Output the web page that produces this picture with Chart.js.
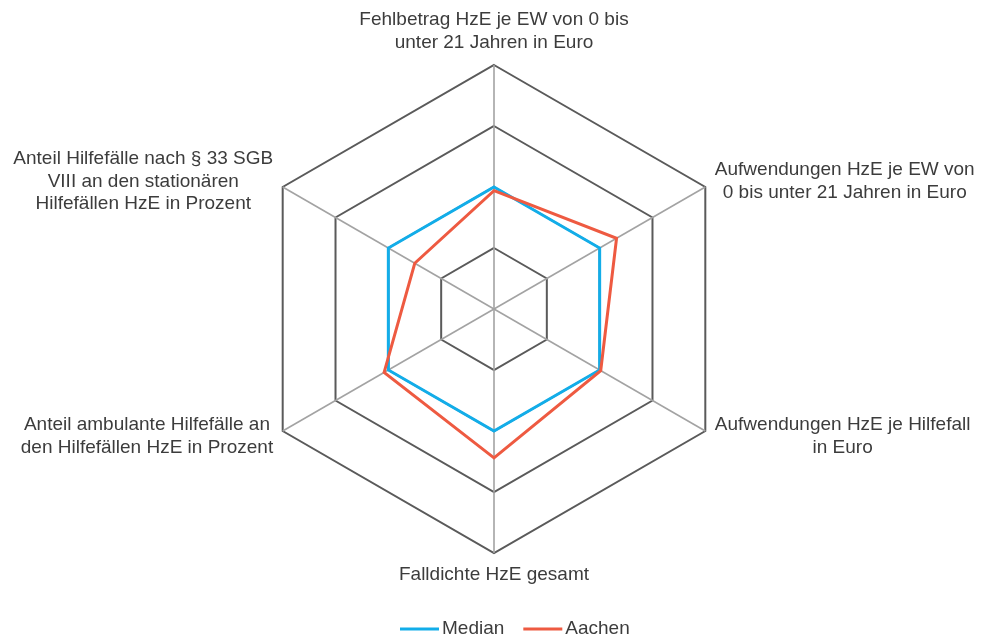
<!DOCTYPE html>
<html lang="de">
<head>
<meta charset="utf-8">
<title>HzE Kennzahlen – Median und Aachen</title>
<script src="https://cdn.jsdelivr.net/npm/chart.js@4.4.1/dist/chart.umd.min.js"></script>
<style>
  html, body { margin: 0; padding: 0; background: #ffffff; }
  #wrap { width: 981px; height: 639px; position: relative; }
</style>
</head>
<body>
<div id="wrap"><canvas id="radar" width="981" height="639"></canvas></div>
<script>
// Axis labels (one entry per spoke, split into lines)
const categories = [
  ['Fehlbetrag HzE je EW von 0 bis', 'unter 21 Jahren in Euro'],
  ['Aufwendungen HzE je EW von', '0 bis unter 21 Jahren in Euro'],
  ['Aufwendungen HzE je Hilfefall', 'in Euro'],
  ['Falldichte HzE gesamt'],
  ['Anteil ambulante Hilfefälle an', 'den Hilfefällen HzE in Prozent'],
  ['Anteil Hilfefälle nach § 33 SGB', 'VIII an den stationären', 'Hilfefällen HzE in Prozent']
];

// Index values (Median = 100)
const medianValues = [100, 100, 100, 100, 100, 100];
const aachenValues = [97, 116, 101, 122, 104, 75];

// Radial scale range
const scaleMin = 0;
const scaleMax = 200;
const scaleStep = 50;

const seriesNames = ['Median', 'Aachen'];
const seriesColors = ['#12ade9', '#ee5a41'];

const FONT = '"Liberation Sans", Arial, sans-serif';
const FONT_SIZE = 19;
const LINE_H = 22.5;
const TEXT_COLOR = '#3c3c3c';

// Draws the multi-line spoke labels (centred lines) and the legend
const labelPlugin = {
  id: 'spokeLabels',
  afterDraw(chart) {
    const scale = chart.scales.r;
    const ctx = chart.ctx;
    ctx.save();
    ctx.font = FONT_SIZE + 'px ' + FONT;
    ctx.fillStyle = TEXT_COLOR;
    ctx.textBaseline = 'middle';
    ctx.textAlign = 'center';

    const n = categories.length;
    for (let i = 0; i < n; i++) {
      const lines = categories[i];
      const pos = scale.getPointPosition(i, scale.drawingArea + 11);
      const blockW = Math.max(...lines.map(l => ctx.measureText(l).width));
      const blockH = lines.length * LINE_H;
      const dx = pos.x - scale.xCenter;
      let cx, top;
      if (Math.abs(dx) < 1) {
        cx = pos.x;
        top = pos.y < scale.yCenter ? pos.y - blockH : pos.y;
      } else if (dx > 0) {
        cx = pos.x + blockW / 2;
        top = pos.y - blockH / 2;
      } else {
        cx = pos.x - blockW / 2;
        top = pos.y - blockH / 2;
      }
      lines.forEach((line, k) => {
        ctx.fillText(line, cx, top + LINE_H * (k + 0.5));
      });
    }

    // Legend
    const legendY = 629;
    let x = 400;
    ctx.textAlign = 'left';
    seriesNames.forEach((name, k) => {
      ctx.strokeStyle = seriesColors[k];
      ctx.lineWidth = 3;
      ctx.beginPath();
      ctx.moveTo(x, legendY);
      ctx.lineTo(x + 39, legendY);
      ctx.stroke();
      x += 42;
      ctx.fillStyle = TEXT_COLOR;
      ctx.fillText(name, x, legendY);
      x += ctx.measureText(name).width + 19;
    });
    ctx.restore();
  }
};

new Chart(document.getElementById('radar'), {
  type: 'radar',
  data: {
    labels: categories,
    datasets: [
      {
        label: seriesNames[0],
        data: medianValues,
        borderColor: seriesColors[0],
        backgroundColor: 'transparent',
        borderWidth: 3,
        borderJoinStyle: 'miter',
        pointRadius: 0,
        pointHoverRadius: 0,
        fill: false,
        order: 1
      },
      {
        label: seriesNames[1],
        data: aachenValues,
        borderColor: seriesColors[1],
        backgroundColor: 'transparent',
        borderWidth: 3,
        borderJoinStyle: 'miter',
        pointRadius: 0,
        pointHoverRadius: 0,
        fill: false,
        order: 0
      }
    ]
  },
  options: {
    responsive: false,
    devicePixelRatio: 1,
    animation: false,
    layout: { padding: { top: 65, bottom: 86, left: 7, right: 0 } },
    plugins: {
      legend: { display: false },
      tooltip: { enabled: false }
    },
    scales: {
      r: {
        min: scaleMin,
        max: scaleMax,
        ticks: { display: false, stepSize: scaleStep },
        grid: { color: '#5a5a5a', lineWidth: 2 },
        angleLines: { color: '#a3a3a3', lineWidth: 1.6 },
        pointLabels: { display: false }
      }
    }
  },
  plugins: [labelPlugin]
});
</script>
</body>
</html>
